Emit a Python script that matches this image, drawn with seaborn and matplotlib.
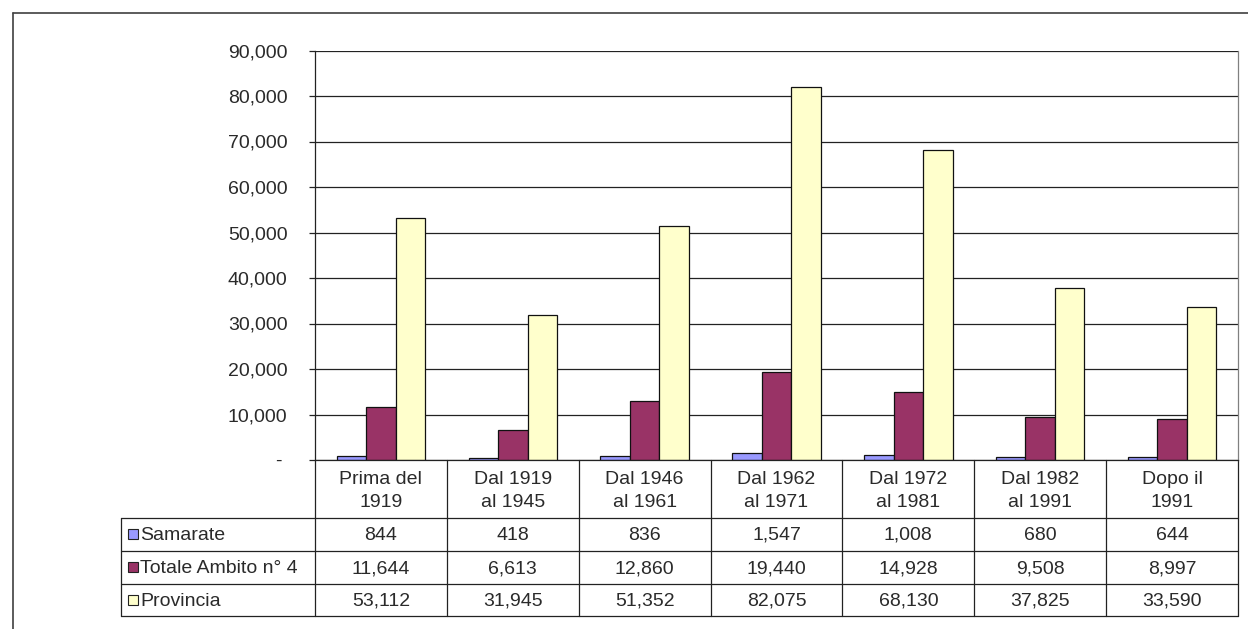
import matplotlib
matplotlib.use("Agg")
import matplotlib.pyplot as plt
import matplotlib.transforms as mtransforms
from matplotlib.patches import Rectangle
from matplotlib.lines import Line2D
from matplotlib.ticker import FuncFormatter
import seaborn as sns
import pandas as pd

periods = ["Prima del\n1919", "Dal 1919\nal 1945", "Dal 1946\nal 1961", "Dal 1962\nal 1971",
           "Dal 1972\nal 1981", "Dal 1982\nal 1991", "Dopo il\n1991"]
series_names = ["Samarate", "Totale Ambito n° 4", "Provincia"]
samarate = [844, 418, 836, 1547, 1008, 680, 644]
totale_ambito = [11644, 6613, 12860, 19440, 14928, 9508, 8997]
provincia = [53112, 31945, 51352, 82075, 68130, 37825, 33590]
colors = ["#9999FF", "#993366", "#FFFFCC"]
yticks = [0, 10000, 20000, 30000, 40000, 50000, 60000, 70000, 80000, 90000]

values = [samarate, totale_ambito, provincia]
df = pd.DataFrame({
    "period": [p for s in values for p in periods],
    "series": [n for n, s in zip(series_names, values) for _ in s],
    "value": [v for s in values for v in s],
})

sns.set_theme(style="white")
plt.rcParams["font.family"] = ["Liberation Sans", "DejaVu Sans"]
FS = 14
TXT = "#2a2a2a"

W, H = 1248, 629
fig = plt.figure(figsize=(W / 100, H / 100), dpi=100)
fig.patch.set_facecolor("white")
x0, x1, y_top, y_bot = 315, 1238, 50.5, 460
ax = fig.add_axes([x0 / W, 1 - y_bot / H, (x1 - x0) / W, (y_bot - y_top) / H])

sns.barplot(data=df, x="period", y="value", hue="series", order=periods,
            hue_order=series_names, palette=colors, width=0.67, saturation=1,
            edgecolor="#111111", linewidth=0.9, errorbar=None, legend=False, ax=ax)

ax.set_xlim(-0.5, len(periods) - 0.5)
ax.set_ylim(0, 90000)
ax.set_yticks(yticks)
ax.yaxis.set_major_formatter(FuncFormatter(lambda v, p: "- " if v == 0 else f"{v:,.0f}"))
ax.set_axisbelow(True)
ax.grid(axis="y", color="#222222", lw=0.9)
ax.grid(axis="x", visible=False)
ax.set_xlabel("")
ax.set_ylabel("")
ax.set_xticks(range(len(periods)))
ax.set_xticklabels([])
ax.tick_params(axis="x", length=0)
ax.tick_params(axis="y", left=True, direction="out", length=4.3, width=0.9,
               color="#222222", pad=15.5, labelsize=FS, labelcolor=TXT)
ax.spines["top"].set_visible(False)
ax.spines["left"].set_color("#222222")
ax.spines["bottom"].set_color("#222222")
ax.spines["right"].set_color("#808080")
for s in ["left", "bottom", "right"]:
    ax.spines[s].set_linewidth(0.9)

# data table below the plot
tr = mtransforms.blended_transform_factory(ax.transData, fig.transFigure)
def fy(ypix):
    return 1 - ypix / H

col_w = (x1 - x0) / len(periods)
xl = -0.5 - (x0 - 121) / col_w
row_edges = [460, 518, 551, 584, 616]
lc = "#222222"
for yp in row_edges[1:]:
    ax.add_line(Line2D([xl, len(periods) - 0.5], [fy(yp), fy(yp)], transform=tr,
                       color=lc, lw=0.9, clip_on=False))
ax.add_line(Line2D([xl, xl], [fy(518), fy(616)], transform=tr, color=lc, lw=0.9, clip_on=False))
for i in range(len(periods) + 1):
    xv = i - 0.5
    ax.add_line(Line2D([xv, xv], [fy(460), fy(616)], transform=tr, color=lc, lw=0.9, clip_on=False))

for i, p in enumerate(periods):
    ax.text(i, fy(491), p, transform=tr, ha="center", va="center", fontsize=FS,
            color=TXT, linespacing=1.4, clip_on=False)
    for r, s in enumerate(values):
        yc = (row_edges[r + 1] + row_edges[r + 2]) / 2
        ax.text(i, fy(yc + 1), f"{s[i]:,}", transform=tr, ha="center", va="center",
                fontsize=FS, color=TXT, clip_on=False)

for r, (name, c) in enumerate(zip(series_names, colors)):
    yc = (row_edges[r + 1] + row_edges[r + 2]) / 2
    fig.add_artist(Rectangle((128 / W, fy(yc + 4.5)), 10 / W, 10 / H, transform=fig.transFigure,
                             facecolor=c, edgecolor="#222222", lw=0.8))
    fig.text(140 / W, fy(yc + 1), name, ha="left", va="center", fontsize=FS, color=TXT)

# outer chart frame
fig.add_artist(Line2D([12.5 / W, 1], [fy(12.5), fy(12.5)], transform=fig.transFigure,
                      color="#404040", lw=1.2))
fig.add_artist(Line2D([12.5 / W, 12.5 / W], [fy(12.5), 0], transform=fig.transFigure,
                      color="#404040", lw=1.2))

fig.savefig("out.png", dpi=100, facecolor="white")
